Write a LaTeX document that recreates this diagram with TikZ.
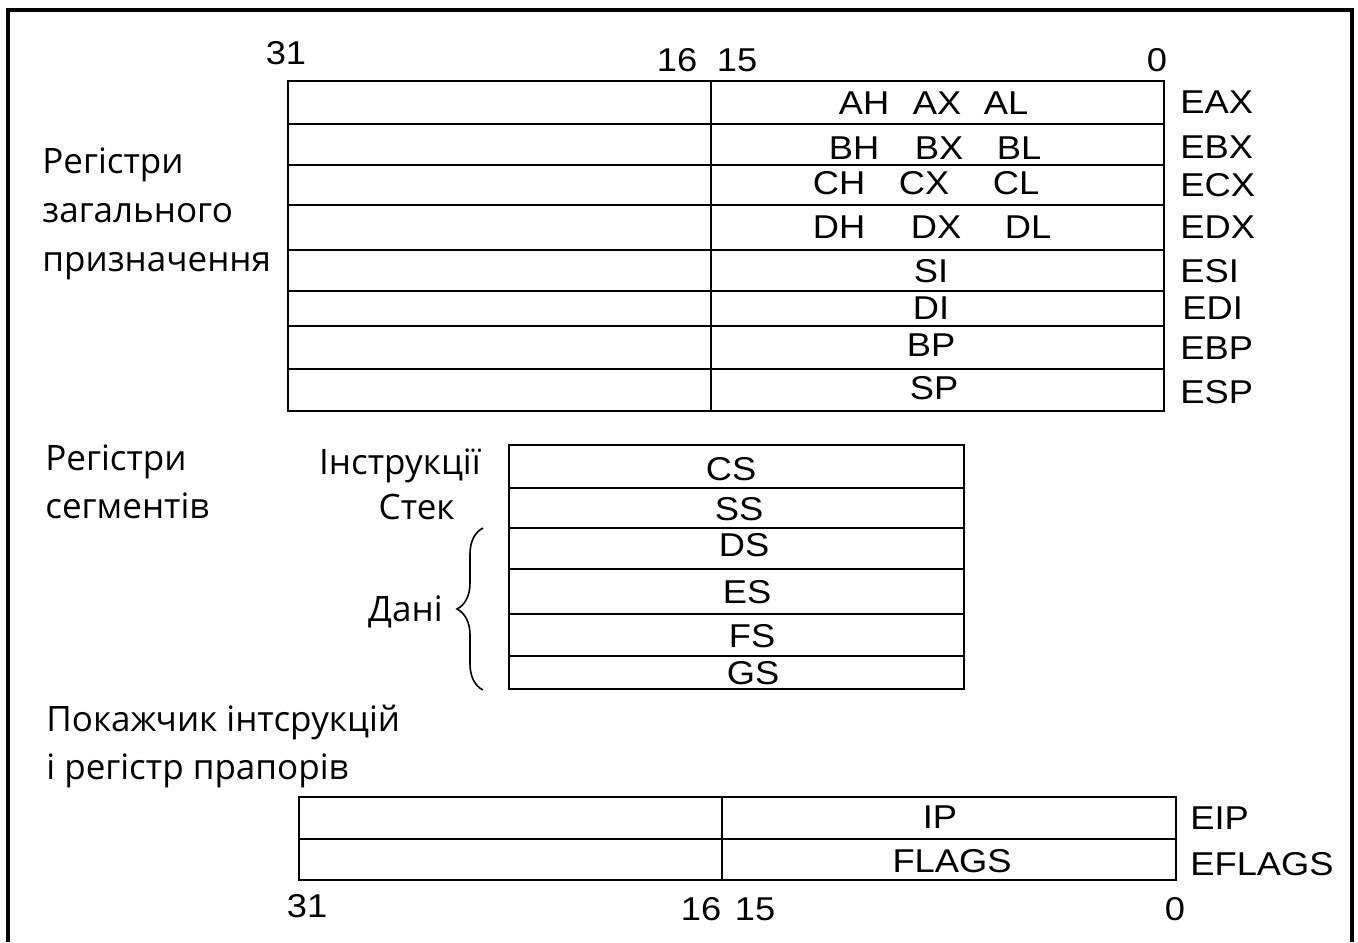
\documentclass[tikz,border=0pt]{standalone}
\usepackage{fontspec}
\setmainfont{Open Sans}
\newfontfamily\regfont[FakeStretch=1.1]{Liberation Sans}
\usetikzlibrary{decorations.pathreplacing}

\begin{document}
\begin{tikzpicture}[
    x=0.5pt, y=-0.5pt,
    boxline/.style={line width=1.25pt},
    regname/.style={font=\regfont\fontsize{16.5}{18}\selectfont, inner sep=0pt, anchor=base},
    extname/.style={regname, anchor=base west},
    groupname/.style={font=\fontsize{17.5}{21}\selectfont, inner sep=0pt, anchor=base west},
    segname/.style={groupname, anchor=base east}
]

    \useasboundingbox (0,0) rectangle (1358,942);

    % outer frame (open at the bottom)
    \draw[line width=2pt] (8,942) -- (8,10) -- (1352,10) -- (1352,942);

    % ==========================================
    % 1. GENERAL PURPOSE REGISTERS
    % ==========================================

    \draw[boxline] (288,81) rectangle (1164,411);
    \draw[boxline] (711,81) -- (711,411);
    \foreach \y in {124,165,205,250,291,326,369}
        \draw[boxline] (288,\y) -- (1164,\y);

    \node[regname] (top31) at (286,64) {31};
    \node[regname] (top16) at (677,71) {16};
    \node[regname] (top15) at (737,71) {15};
    \node[regname] (top0)  at (1157,71) {0};

    \node[groupname] (gen1) at (42,173) {Регістри};
    \node[groupname] (gen2) at (42,222) {загального};
    \node[groupname] (gen3) at (42,271) {призначення};

    \node[regname] (ah) at (864,114) {AH};
    \node[regname] (ax) at (937,114) {AX};
    \node[regname] (al) at (1006,114) {AL};

    \node[regname] (bh) at (854,159) {BH};
    \node[regname] (bx) at (939,159) {BX};
    \node[regname] (bl) at (1019,159) {BL};

    \node[regname] (ch) at (839,194) {CH};
    \node[regname] (cx) at (924,194) {CX};
    \node[regname] (cl) at (1016,194) {CL};

    \node[regname] (dh) at (839,238) {DH};
    \node[regname] (dx) at (936,238) {DX};
    \node[regname] (dl) at (1028,238) {DL};

    \node[regname] (si) at (931,282) {SI};
    \node[regname] (di) at (931,319) {DI};
    \node[regname] (bp) at (931,356) {BP};
    \node[regname] (sp) at (934,399) {SP};

    \node[extname] (eax) at (1180,113) {EAX};
    \node[extname] (ebx) at (1180,158) {EBX};
    \node[extname] (ecx) at (1180,196) {ECX};
    \node[extname] (edx) at (1180,238) {EDX};
    \node[extname] (esi) at (1180,282) {ESI};
    \node[extname] (edi) at (1182,319) {EDI};
    \node[extname] (ebp) at (1180,359) {EBP};
    \node[extname] (esp) at (1180,403) {ESP};

    % ==========================================
    % 2. SEGMENT REGISTERS
    % ==========================================

    \draw[boxline] (509,445) rectangle (964,689);
    \foreach \y in {488,528,569,614,656}
        \draw[boxline] (509,\y) -- (964,\y);

    \node[groupname] (seg1) at (45,470) {Регістри};
    \node[groupname] (seg2) at (45,518) {сегментів};

    \node[segname] (code)  at (481,474) {Інструкції};
    \node[segname] (stack) at (455,519) {Стек};
    \node[segname] (data)  at (443,621) {Дані};

    \node[regname] (cs) at (731,480) {CS};
    \node[regname] (ss) at (739,520) {SS};
    \node[regname] (ds) at (744,556) {DS};
    \node[regname] (es) at (747,603) {ES};
    \node[regname] (fs) at (752,647) {FS};
    \node[regname] (gs) at (753,684) {GS};

    \coordinate (datatop) at (483,528);
    \coordinate (databot) at (483,690);
    \draw[line width=0.8pt, decorate, decoration={brace, amplitude=13pt}] (databot) -- (datatop);

    % ==========================================
    % 3. INSTRUCTION POINTER AND FLAGS
    % ==========================================

    \node[groupname] (ptr1) at (46,731) {Покажчик інтсрукцій};
    \node[groupname] (ptr2) at (46,779) {і регістр прапорів};

    \draw[boxline] (299,797) rectangle (1176,880);
    \draw[boxline] (722,797) -- (722,880);
    \draw[boxline] (299,839) -- (1176,839);

    \node[regname] (ip)    at (940,828) {IP};
    \node[regname] (flags) at (952,872) {FLAGS};

    \node[extname] (eip)    at (1190,829) {EIP};
    \node[extname] (eflags) at (1190,875) {EFLAGS};

    \node[regname] (bot31) at (307,917) {31};
    \node[regname] (bot16) at (701,920) {16};
    \node[regname] (bot15) at (755,920) {15};
    \node[regname] (bot0)  at (1175,920) {0};

\end{tikzpicture}
\end{document}
